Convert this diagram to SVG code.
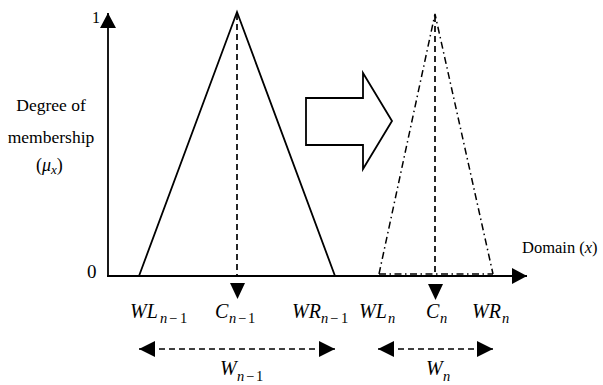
<svg xmlns="http://www.w3.org/2000/svg" width="603" height="385" viewBox="0 0 603 385">
<style>
.ln{fill:none;stroke:#000;stroke-width:1.8}
.dash{fill:none;stroke:#000;stroke-width:1.7;stroke-dasharray:6 4}
.dd{fill:none;stroke:#000;stroke-width:1.5;stroke-dasharray:7 3.5 1.5 3.5}
.head{fill:#000;stroke:none}
.t{font-family:"Liberation Serif","Times New Roman",serif;fill:#000}
.m{font-family:"Liberation Serif","Times New Roman",serif;font-style:italic;font-size:20px;fill:#000}
.s{font-size:14.5px}
.u{font-style:normal}
</style>
<defs>
<marker id="ah" viewBox="0 0 16 16" refX="16" refY="8" markerWidth="16" markerHeight="16" markerUnits="userSpaceOnUse" orient="auto-start-reverse">
<path d="M0,0 L16,8 L0,16 Z" class="head"/>
</marker>
<marker id="ax" viewBox="0 0 15 16" refX="15" refY="8" markerWidth="15" markerHeight="16" markerUnits="userSpaceOnUse" orient="auto">
<path d="M0,0 L15,8 L0,16 Z" class="head"/>
</marker>
<polygon id="down" points="-7.5,0 7.5,0 0,16" class="head"/>
</defs>
<rect width="603" height="385" fill="#fff"/>

<g id="axes">
<line class="ln" x1="108" y1="277" x2="108" y2="13" marker-end="url(#ax)"/>
<line class="ln" x1="107" y1="276" x2="527" y2="276" marker-end="url(#ax)"/>
<text class="t" x="92" y="23" font-size="16">1</text>
<text class="t" x="87" y="278" font-size="19">0</text>
<text class="t" x="51" y="111" font-size="17.5" text-anchor="middle">Degree of</text>
<text class="t" x="51" y="143" font-size="17.5" text-anchor="middle">membership</text>
<text class="t" x="36" y="171" font-size="18">(<tspan font-style="italic">μ</tspan><tspan font-style="italic" font-size="13" dy="3">x</tspan><tspan dy="-3">)</tspan></text>
<text class="t" x="522" y="253" font-size="16.5">Domain (<tspan font-style="italic">x</tspan>)</text>
</g>

<g id="prev-set">
<polyline class="ln" points="139,276 237,12 335,276"/>
<line class="dash" x1="237" y1="14" x2="237" y2="277"/>
<use href="#down" x="237.5" y="283"/>
</g>

<g id="transition-arrow">
<path class="ln" d="M306,98 H363 V73 L392,121 L363,169 V145 H306 Z"/>
</g>

<g id="next-set">
<polyline class="dd" points="379,274 435,14 493,274"/>
<line class="dd" x1="379" y1="274" x2="493" y2="274" stroke-width="1" stroke="#c8c8c8"/>
<line class="dash" x1="435" y1="16" x2="435" y2="277"/>
<use href="#down" x="435.5" y="284"/>
</g>

<g id="labels">
<text class="m" y="318"><tspan x="130">WL</tspan><tspan class="s" x="160" dy="5">n</tspan><tspan class="s u" x="169">−</tspan><tspan class="s u" x="180">1</tspan></text>
<text class="m" y="318"><tspan x="215">C</tspan><tspan class="s" x="229" dy="5">n</tspan><tspan class="s u" x="238">−</tspan><tspan class="s u" x="248">1</tspan></text>
<text class="m" y="318"><tspan x="292">WR</tspan><tspan class="s" x="321" dy="5">n</tspan><tspan class="s u" x="330">−</tspan><tspan class="s u" x="341">1</tspan></text>
<text class="m" y="318"><tspan x="359">WL</tspan><tspan class="s" x="388" dy="5">n</tspan></text>
<text class="m" y="318"><tspan x="426">C</tspan><tspan class="s" x="440" dy="5">n</tspan></text>
<text class="m" y="318"><tspan x="472">WR</tspan><tspan class="s" x="502" dy="5">n</tspan></text>
<text class="m" y="375"><tspan x="220">W</tspan><tspan class="s" x="237" dy="6">n</tspan><tspan class="s u" x="246">−</tspan><tspan class="s u" x="256">1</tspan></text>
<text class="m" y="375"><tspan x="426">W</tspan><tspan class="s" x="443" dy="6">n</tspan></text>
</g>

<g id="connectors">
<line class="dash" x1="139" y1="349" x2="335" y2="349" marker-start="url(#ah)" marker-end="url(#ah)"/>
<line class="dash" x1="378" y1="349" x2="493" y2="349" marker-start="url(#ah)" marker-end="url(#ah)"/>
</g>
</svg>
